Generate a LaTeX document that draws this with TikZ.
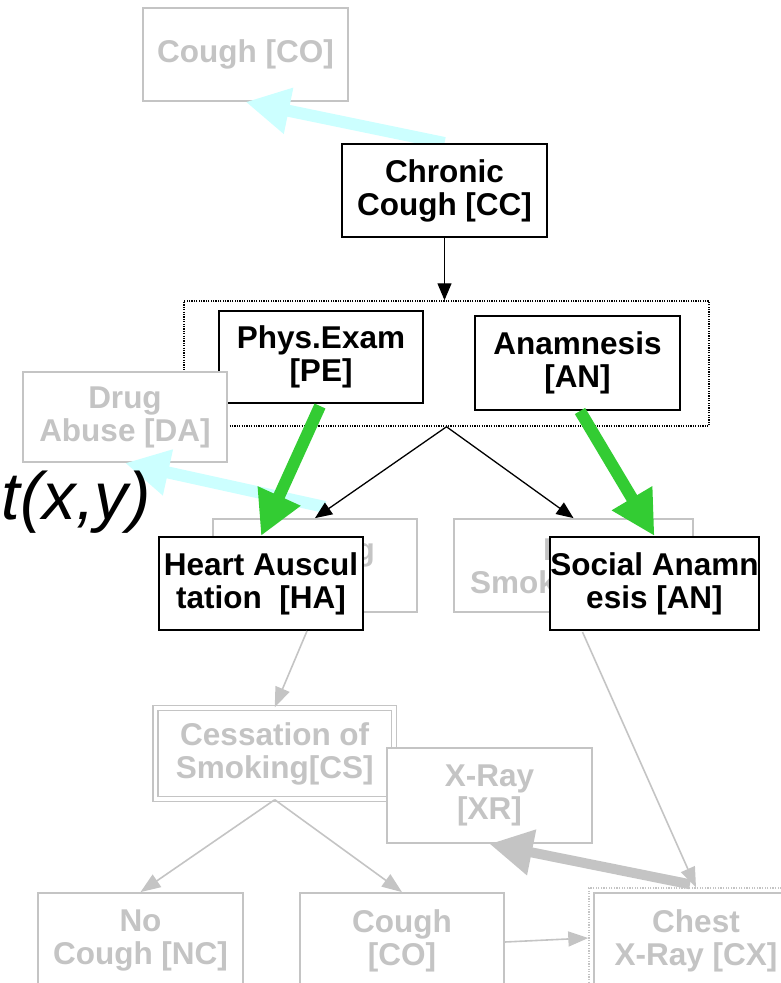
\documentclass[tikz,border=0pt]{standalone}
\usepackage{fontspec}
\setmainfont{Liberation Sans}
\usetikzlibrary{arrows.meta,calc}
\definecolor{lg}{HTML}{C4C4C4}
\definecolor{cy}{HTML}{CCFFFF}
\definecolor{gr}{HTML}{33CC33}
\begin{document}
\begin{tikzpicture}[x=1pt,y=-1pt,
  lbl/.style={font=\fontsize{31.5}{33}\selectfont\bfseries, align=center, inner sep=0pt},
  bbox/.style={lbl, draw=black, line width=2pt, fill=white, minimum width=205pt, minimum height=93pt},
  gbox/.style={lbl, draw=lg, line width=1.8pt, fill=white, text=lg, minimum width=205pt, minimum height=93pt},
  gtext/.style={font=\fontsize{31.5}{33}\selectfont\bfseries, text=lg, inner sep=0pt},
  dotbox/.style={draw=black, line width=1.5pt, dash pattern=on 1.2pt off 1.2pt, inner sep=0pt},
  gdotbox/.style={draw=lg, line width=1.4pt, dash pattern=on 1.2pt off 1.4pt, inner sep=0pt},
  thinarrow/.style={draw=black, line width=1.3pt, -{Triangle[length=17pt,width=14pt]}},
  garrow/.style={draw=lg, line width=1.6pt, -{Triangle[length=20pt,width=15pt]}},
  fatarrow/.style={line width=12pt, -{Triangle[length=44pt,width=44pt]}},
]
\useasboundingbox (0,0) rectangle (781,983);

% top part
\node[gbox] (co1) at (245.5,54.5) {Cough [CO]};
\node[bbox, draw=none, fill=none, text opacity=0] (ccdummy) at (444.5,190.5) {};
\draw[fatarrow, draw=cy, fill=cy] (ccdummy.north) -- (co1.south);
\node[bbox] (cc) at (444.5,190.5) {Chronic\\Cough [CC]};
\node[dotbox, minimum width=525pt, minimum height=125pt] (grp) at (446.5,363.5) {};
\draw[thinarrow] (cc.south) -- (cc.south |- grp.north);
\node[bbox, minimum width=204pt, minimum height=92pt] (pe) at (321,357) {Phys.Exam\\{[PE]}};
\node[bbox, minimum height=94pt] (an) at (577.5,363) {Anamnesis\\{[AN]}};
\node[gbox, minimum width=204pt, minimum height=90pt] (da) at (125,417) {Drug\\Abuse [DA]};

% partly hidden middle boxes
\node[gbox, minimum width=204pt] (sm) at (315,565.5) {};
\node[gtext, anchor=base east] (smt) at (375,560) {g};
\node[gbox, minimum width=239pt] (ns) at (573.5,565.5) {};
\node[gtext, anchor=base west] (nst1) at (543,560) {N};
\node[gtext, anchor=base west] (nst2) at (470,593) {Smok};

% arrows and front middle boxes
\coordinate (c2) at (325,507);
\draw[fatarrow, draw=cy, fill=cy] (c2) -- (125,463) coordinate (dasouth);
\draw[thinarrow] (grp.south) -- (sm.north);
\draw[thinarrow] (grp.south) -- (ns.north);
\node[bbox, minimum width=204pt] (ha) at (261,583.5) {Heart Auscul\\tation~~[HA]};
\node[bbox, minimum width=205pt] (sa) at (654.5,583.5) {Social Anamn\\esis [AN]};
\draw[fatarrow, draw=gr, fill=gr] ($(pe.south)+(-1,2)$) -- (ha.north);
\draw[fatarrow, draw=gr, fill=gr] ($(an.south)+(2.5,0)$) -- (sa.north);

% italic label
\node[font=\fontsize{67}{72}\selectfont\itshape, anchor=base east, inner sep=0pt] (pt) at (151,519) {pt(x,y)};

% lower part
\node[lbl, draw=lg, line width=1.4pt, double=white, double distance=3.5pt, fill=white, text=lg,
      minimum width=238.5pt, minimum height=91pt] (cs) at (274.75,753.5) {Cessation of\\Smoking[CS]};
\draw[garrow] ($(ha.south)+(46,0)$) -- (cs.north);
\node[gbox, minimum height=95pt] (xr) at (489.5,795.5) {X-Ray\\{[XR]}};
\node[gbox, minimum height=95pt] (nc) at (140.5,940.5) {No\\Cough [NC]};
\node[gbox, minimum width=204pt, minimum height=95pt] (co2) at (402,940.5) {Cough\\{[CO]}};
\draw[garrow] (cs.south) -- (nc.north);
\draw[garrow] (cs.south) -- (co2.north);
\node[gdotbox, minimum width=214pt, minimum height=105pt] (cxo) at (696,940.5) {};
\node[gbox, minimum width=204pt, minimum height=95pt] (cx) at (696,940.5) {Chest\\X-Ray [CX]};
\draw[garrow] ($(co2.east)+(0,1.5)$) -- ($(cxo.west)+(0,-2.5)$);
\draw[garrow] ($(sa.south)+(-72,1)$) -- (cxo.north);
\draw[line width=10pt, draw=lg, fill=lg, -{Triangle[length=43pt,width=44pt]}] ($(cxo.north)+(-6,-3)$) -- (xr.south);
\end{tikzpicture}
\end{document}
